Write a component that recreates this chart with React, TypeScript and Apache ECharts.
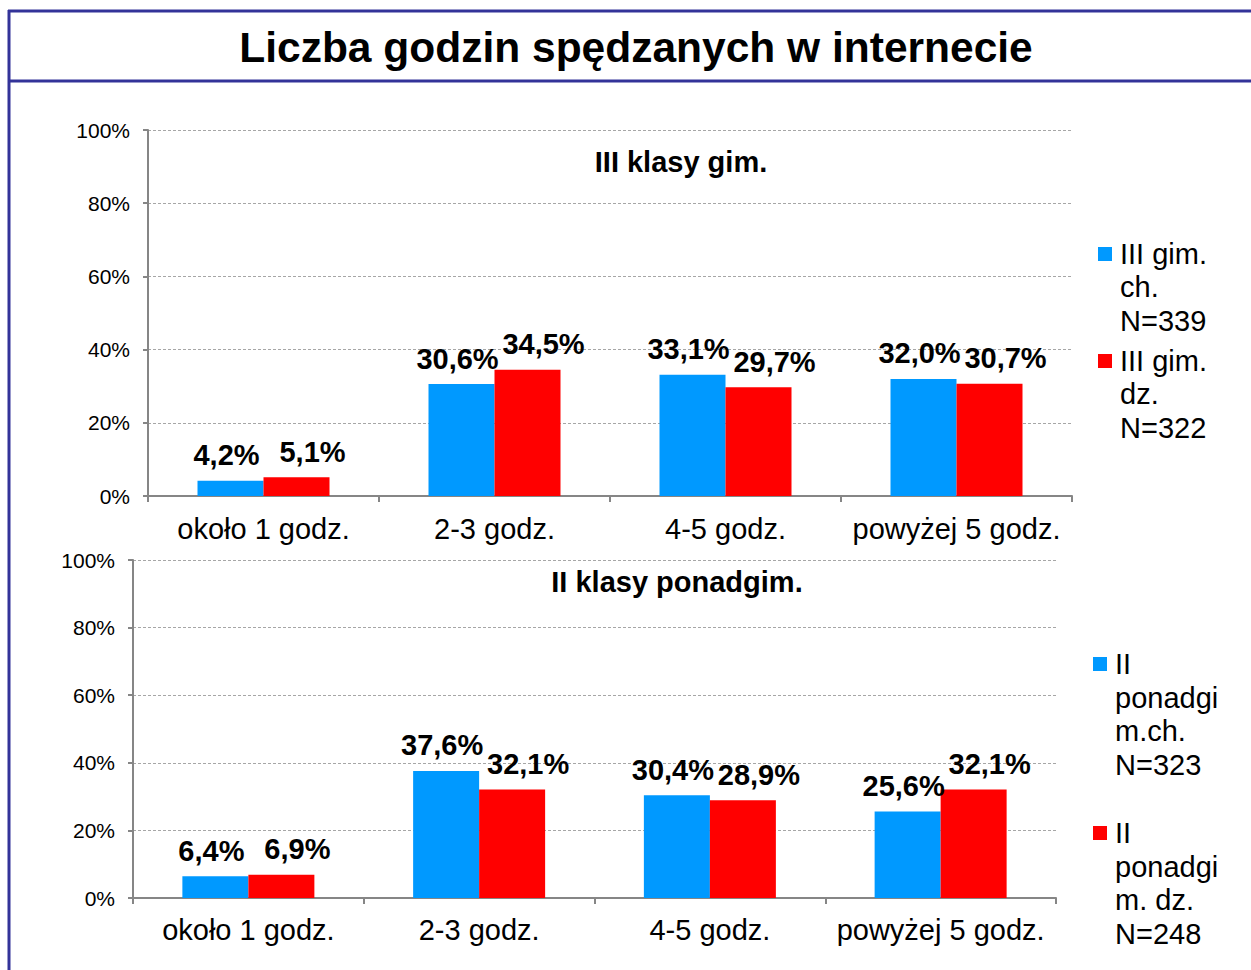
import React, { useEffect, useRef } from "react";
import * as echarts from "echarts";

const title = "Liczba godzin spędzanych w internecie";
const categories = ["około 1 godz.", "2-3 godz.", "4-5 godz.", "powyżej 5 godz."];

const chart1Title = "III klasy gim.";
const chart1Names = ["III gim.\nch.\nN=339", "III gim.\ndz.\nN=322"];
const chart1Boys = [4.2, 30.6, 33.1, 32.0];
const chart1Girls = [5.1, 34.5, 29.7, 30.7];

const chart2Title = "II klasy ponadgim.";
const chart2Names = ["II\nponadgi\nm.ch.\nN=323", "II\nponadgi\nm. dz.\nN=248"];
const chart2Boys = [6.4, 37.6, 30.4, 25.6];
const chart2Girls = [6.9, 32.1, 28.9, 32.1];

const colors = ["#0099FF", "#FF0000"];
const FONT = "'Liberation Sans', Arial, sans-serif";
const FRAME = "#333399";

export default function App() {
  const ref = useRef<HTMLDivElement>(null);
  useEffect(() => {
    if (!ref.current) return;
    const chart = echarts.init(ref.current, undefined, { renderer: "svg" });
    const grids = [
      { left: 148, top: 130, width: 924, height: 366 },
      { left: 133, top: 560, width: 923, height: 338 },
    ];
    const mkX = (i: number, margin: number) => ({
      type: "category",
      gridIndex: i,
      data: categories,
      axisLine: { lineStyle: { color: "#868686", width: 2 } },
      axisTick: { show: true, inside: false, length: 6, alignWithLabel: false, lineStyle: { color: "#868686", width: 2 } },
      axisLabel: { color: "#000", fontSize: 29, fontFamily: FONT, margin, interval: 0 },
    });
    const mkY = (i: number) => ({
      type: "value",
      gridIndex: i,
      min: 0,
      max: 100,
      interval: 20,
      axisLine: { show: true, lineStyle: { color: "#868686", width: 2 } },
      axisTick: { show: true, length: 5, lineStyle: { color: "#868686", width: 2 } },
      axisLabel: { color: "#000", fontSize: 21, fontFamily: FONT, margin: 18, formatter: "{value}%" },
      splitLine: { show: true, lineStyle: { color: "#A6A6A6", type: [3, 2], width: 1 } },
    });
    const mkLabel = (dx: number) => ({
      show: true,
      position: "top",
      distance: 11,
      offset: [dx, 0],
      color: "#000",
      fontSize: 29,
      fontWeight: "bold",
      fontFamily: FONT,
      formatter: (p: any) => p.value.toFixed(1).replace(".", ",") + "%",
    });
    const mkSeries = (name: string, data: number[], i: number, c: number) => ({
      type: "bar",
      name,
      data,
      xAxisIndex: i,
      yAxisIndex: i,
      barWidth: 66,
      barGap: "0%",
      itemStyle: { color: colors[c] },
      label: mkLabel(c === 0 ? -4 : 16),
    });
    const legendItems = (names: string[], x: number, ys: number[], lh: number) =>
      names.flatMap((n, k) => [
        { type: "rect", shape: { x: x, y: ys[k] - 7, width: 14, height: 14 }, style: { fill: colors[k] } },
        {
          type: "text",
          x: x + 22,
          y: ys[k] - lh / 2,
          style: { text: n, font: `29px ${FONT}`, fill: "#000", lineHeight: lh, verticalAlign: "top" },
        },
      ]);
    chart.setOption({
      animation: false,
      grid: grids,
      xAxis: [mkX(0, 18), mkX(1, 17)],
      yAxis: [mkY(0), mkY(1)],
      series: [
        mkSeries(chart1Names[0], chart1Boys, 0, 0),
        mkSeries(chart1Names[1], chart1Girls, 0, 1),
        mkSeries(chart2Names[0], chart2Boys, 1, 0),
        mkSeries(chart2Names[1], chart2Girls, 1, 1),
      ],
      graphic: [
        { type: "line", shape: { x1: 8, y1: 11, x2: 1251, y2: 11 }, style: { stroke: FRAME, lineWidth: 3 } },
        { type: "line", shape: { x1: 9, y1: 10, x2: 9, y2: 970 }, style: { stroke: FRAME, lineWidth: 3 } },
        { type: "line", shape: { x1: 8, y1: 81, x2: 1251, y2: 81 }, style: { stroke: FRAME, lineWidth: 3 } },
        {
          type: "text",
          x: 636,
          y: 47,
          style: { text: title, font: `bold 42.5px ${FONT}`, fill: "#000", align: "center", verticalAlign: "middle" },
        },
        {
          type: "text",
          x: 681,
          y: 162,
          style: { text: chart1Title, font: `bold 29px ${FONT}`, fill: "#000", align: "center", verticalAlign: "middle" },
        },
        {
          type: "text",
          x: 677,
          y: 582,
          style: { text: chart2Title, font: `bold 29px ${FONT}`, fill: "#000", align: "center", verticalAlign: "middle" },
        },
        ...legendItems(chart1Names, 1098, [254, 361], 33.3),
        ...legendItems(chart2Names, 1093, [664, 833], 33.7),
      ],
    });
    return () => chart.dispose();
  }, []);
  return (
    <div
      ref={ref}
      style={{ position: "fixed", left: 0, top: 0, width: 1251, height: 970, background: "#fff" }}
    />
  );
}
